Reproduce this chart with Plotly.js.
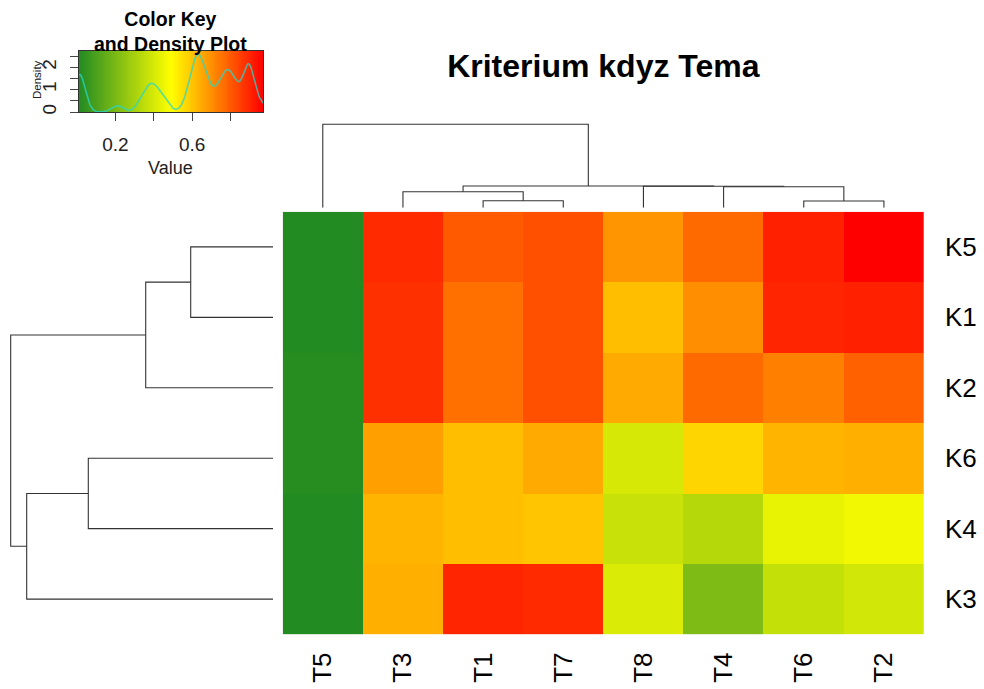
<!DOCTYPE html>
<html>
<head>
<meta charset="utf-8">
<script src="https://cdn.plot.ly/plotly-3.0.1.min.js"></script>
<style>html,body{margin:0;padding:0;background:#fff;}#chart{width:984px;height:689px;}</style>
</head>
<body>
<div id="chart"></div>
<script>
// ---------------- data ----------------
const colLabels = ["T5", "T3", "T1", "T7", "T8", "T4", "T6", "T2"];
const rowLabels = ["K5", "K1", "K2", "K6", "K4", "K3"];

const rowK5 = [0.01, 0.89, 0.80, 0.82, 0.69, 0.77, 0.91, 0.97];
const rowK1 = [0.01, 0.88, 0.76, 0.82, 0.61, 0.70, 0.90, 0.91];
const rowK2 = [0.02, 0.88, 0.76, 0.82, 0.65, 0.77, 0.73, 0.79];
const rowK6 = [0.02, 0.67, 0.61, 0.65, 0.40, 0.57, 0.63, 0.64];
const rowK4 = [0.01, 0.63, 0.61, 0.60, 0.37, 0.33, 0.44, 0.46];
const rowK3 = [0.01, 0.64, 0.90, 0.89, 0.41, 0.21, 0.36, 0.39];

// column dendrogram (merges: leaf names or "m<k>" = earlier merge k)
const colMergeA = ["T6", "T1", "T3", "T4", "T8", "m2", "T5"];
const colMergeB = ["T2", "T7", "m1", "m0", "m3", "m4", "m5"];
const colMergeHeight = [0.168, 0.175, 0.400, 0.525, 0.535, 0.543, 2.085];

// row dendrogram
const rowMergeA = ["K5", "m0", "K6", "m2", "m1"];
const rowMergeB = ["K1", "K2", "K4", "K3", "m3"];
const rowMergeHeight = [0.823, 1.273, 1.847, 2.463, 2.623];

const densAdjust = 0.25;

// ---------------- helpers ----------------
const W = 984, H = 689;
const fx = p => p / W;
const fy = p => 1 - p / H;
const FONT = "Liberation Sans, Arial, Helvetica, sans-serif";

const z = [rowK5, rowK1, rowK2, rowK6, rowK4, rowK3];
const all = z.flat();
const zmin = Math.min(...all), zmax = Math.max(...all);
const cscale = [[0, "rgb(34,139,34)"], [0.5, "rgb(255,255,0)"], [1, "rgb(255,0,0)"]];

function dendro(labels, A, B, Hs) {
  const pos = {}, ht = {};
  labels.forEach((l, i) => { pos[l] = i; ht[l] = 0; });
  const p = [], h = [];
  for (let k = 0; k < Hs.length; k++) {
    const pa = pos[A[k]], pb = pos[B[k]], ha = ht[A[k]], hb = ht[B[k]], hk = Hs[k];
    p.push(pa, pa, pb, pb, null);
    h.push(ha, hk, hk, hb, null);
    pos["m" + k] = (pa + pb) / 2;
    ht["m" + k] = hk;
  }
  return { p, h };
}

// kernel density (R density(), bw.nrd0 * adjust)
function quantile(s, q) {
  const hh = (s.length - 1) * q, lo = Math.floor(hh), hi = Math.min(lo + 1, s.length - 1);
  return s[lo] + (hh - lo) * (s[hi] - s[lo]);
}
const sorted = [...all].sort((a, b) => a - b);
const n = all.length;
const mean = all.reduce((a, b) => a + b, 0) / n;
const sd = Math.sqrt(all.reduce((a, b) => a + (b - mean) * (b - mean), 0) / (n - 1));
const iqr = quantile(sorted, 0.75) - quantile(sorted, 0.25);
const bw = 0.9 * Math.min(sd, iqr / 1.34) * Math.pow(n, -0.2) * densAdjust;
const dx = [], dy = [];
for (let i = 0; i < 512; i++) {
  const x = zmin + (zmax - zmin) * i / 511;
  let s = 0;
  for (const v of all) { const u = (x - v) / bw; s += Math.exp(-0.5 * u * u); }
  dx.push(x); dy.push(s / (n * bw * Math.sqrt(2 * Math.PI)));
}
const dmax = Math.max(...dy);
const yTop = dmax / 0.95;
const dTickVals = [], dTickText = [];
for (let v = 0; v <= dmax + 1e-9; v += 0.5) { dTickVals.push(v); dTickText.push(Math.abs(v - Math.round(v)) < 1e-9 ? String(Math.round(v)) : ""); }

const grad = [];
for (let i = 0; i < 200; i++) grad.push(zmin + (zmax - zmin) * i / 199);

const colD = dendro(colLabels, colMergeA, colMergeB, colMergeHeight);
const rowD = dendro(rowLabels, rowMergeA, rowMergeB, rowMergeHeight);

// ---------------- layout geometry ----------------
const hmL = 282.7, hmR = 924, hmT = 211.7, hmB = 634.3;
const colTop = Math.max(...colMergeHeight) * 1.03, colPx = 40, colBase = 207.7;
const rowTop = Math.max(...rowMergeHeight) * 1.03, rowPx = 100, rowBase = 273;
const keyL = 79, keyR = 263, keyT = 51, keyB = 112;

const lineCol = "#333333";

const traces = [
  {
    type: "heatmap", x: colLabels, y: rowLabels, z: z,
    colorscale: cscale, zmin: zmin, zmax: zmax, showscale: false,
    xaxis: "x", yaxis: "y", hoverinfo: "x+y+z"
  },
  {
    type: "scatter", mode: "lines", x: colD.p, y: colD.h,
    line: { color: lineCol, width: 1.1 }, xaxis: "x2", yaxis: "y2",
    hoverinfo: "skip", showlegend: false, connectgaps: false
  },
  {
    type: "scatter", mode: "lines", x: rowD.h, y: rowD.p,
    line: { color: lineCol, width: 1.1 }, xaxis: "x3", yaxis: "y3",
    hoverinfo: "skip", showlegend: false, connectgaps: false
  },
  {
    type: "heatmap", x: grad, y: [0, yTop], z: [grad, grad],
    colorscale: cscale, zmin: zmin, zmax: zmax, showscale: false,
    xaxis: "x4", yaxis: "y4", hoverinfo: "skip"
  },
  {
    type: "scatter", mode: "lines", x: dx, y: dy,
    line: { color: "rgba(40,215,200,0.75)", width: 1.6 },
    xaxis: "x4", yaxis: "y4", hoverinfo: "skip", showlegend: false
  }
];

const noAxis = { showgrid: false, zeroline: false, showline: false, showticklabels: false, ticks: "", fixedrange: true };

const layout = {
  width: W, height: H,
  margin: { l: 0, r: 0, t: 0, b: 0 },
  paper_bgcolor: "#fff", plot_bgcolor: "rgba(0,0,0,0)",
  showlegend: false,
  font: { family: FONT, color: "#000" },
  title: {
    text: "Kriterium kdyz Tema",
    font: { family: FONT, size: 32, color: "#000", weight: "bold" },
    x: (hmL + hmR) / 2 / W, xref: "paper", xanchor: "center",
    y: fy(66), yref: "paper", yanchor: "middle"
  },
  xaxis: {
    domain: [fx(hmL), fx(hmR)], type: "category", range: [-0.5, 7.5],
    showgrid: false, zeroline: false, showline: false, ticks: "",
    tickangle: -90, tickfont: { family: FONT, size: 26, color: "#000" },
    ticklabelstandoff: 12, anchor: "y", automargin: false
  },
  yaxis: {
    domain: [fy(hmB), fy(hmT)], type: "category", range: [5.5, -0.5],
    side: "right", showgrid: false, zeroline: false, showline: false, ticks: "",
    tickfont: { family: FONT, size: 26, color: "#000" },
    ticklabelstandoff: 20, anchor: "x", automargin: false
  },
  xaxis2: Object.assign({}, noAxis, { domain: [fx(hmL), fx(hmR)], range: [-0.5, 7.5], anchor: "y2" }),
  yaxis2: Object.assign({}, noAxis, { domain: [fy(colBase), fy(colBase - colTop * colPx)], range: [0, colTop], anchor: "x2" }),
  xaxis3: Object.assign({}, noAxis, { domain: [fx(rowBase - rowTop * rowPx), fx(rowBase)], range: [rowTop, 0], anchor: "y3" }),
  yaxis3: Object.assign({}, noAxis, { domain: [fy(hmB), fy(hmT)], range: [5.5, -0.5], anchor: "x3" }),
  xaxis4: {
    domain: [fx(keyL), fx(keyR)], range: [zmin, zmax], anchor: "y4",
    showgrid: false, zeroline: false, showline: true, mirror: true, linecolor: "#333", linewidth: 1,
    ticks: "outside", ticklen: 8, tickcolor: "#444", tickwidth: 1,
    tickvals: [0, 0.2, 0.4, 0.6, 0.8], ticktext: ["0", "0.2", "", "0.6", ""],
    tickfont: { family: FONT, size: 19, color: "#222" }, ticklabelstandoff: 7, automargin: false
  },
  yaxis4: {
    domain: [fy(keyB), fy(keyT)], range: [0, yTop], anchor: "x4",
    showgrid: false, zeroline: false, showline: true, mirror: true, linecolor: "#333", linewidth: 1,
    ticks: "outside", ticklen: 8, tickcolor: "#444", tickwidth: 1,
    tickvals: dTickVals, ticktext: dTickText, tickangle: -90,
    tickfont: { family: FONT, size: 19, color: "#222" }, ticklabelstandoff: 6, automargin: false
  },
  annotations: [
    {
      text: "Color Key<br>and Density Plot", xref: "paper", yref: "paper",
      x: fx(170.5), y: fy(31), xanchor: "center", yanchor: "middle", showarrow: false,
      font: { family: FONT, size: 19.5, color: "#000", weight: "bold" }
    },
    {
      text: "Value", xref: "paper", yref: "paper",
      x: fx(170.5), y: fy(168), xanchor: "center", yanchor: "middle", showarrow: false,
      font: { family: FONT, size: 18, color: "#222" }
    },
    {
      text: "Density", xref: "paper", yref: "paper", textangle: -90,
      x: fx(37), y: fy(80), xanchor: "center", yanchor: "middle", showarrow: false,
      font: { family: FONT, size: 11.5, color: "#222" }
    }
  ]
};

Plotly.newPlot("chart", traces, layout, { staticPlot: true, displayModeBar: false });
</script>
</body>
</html>
